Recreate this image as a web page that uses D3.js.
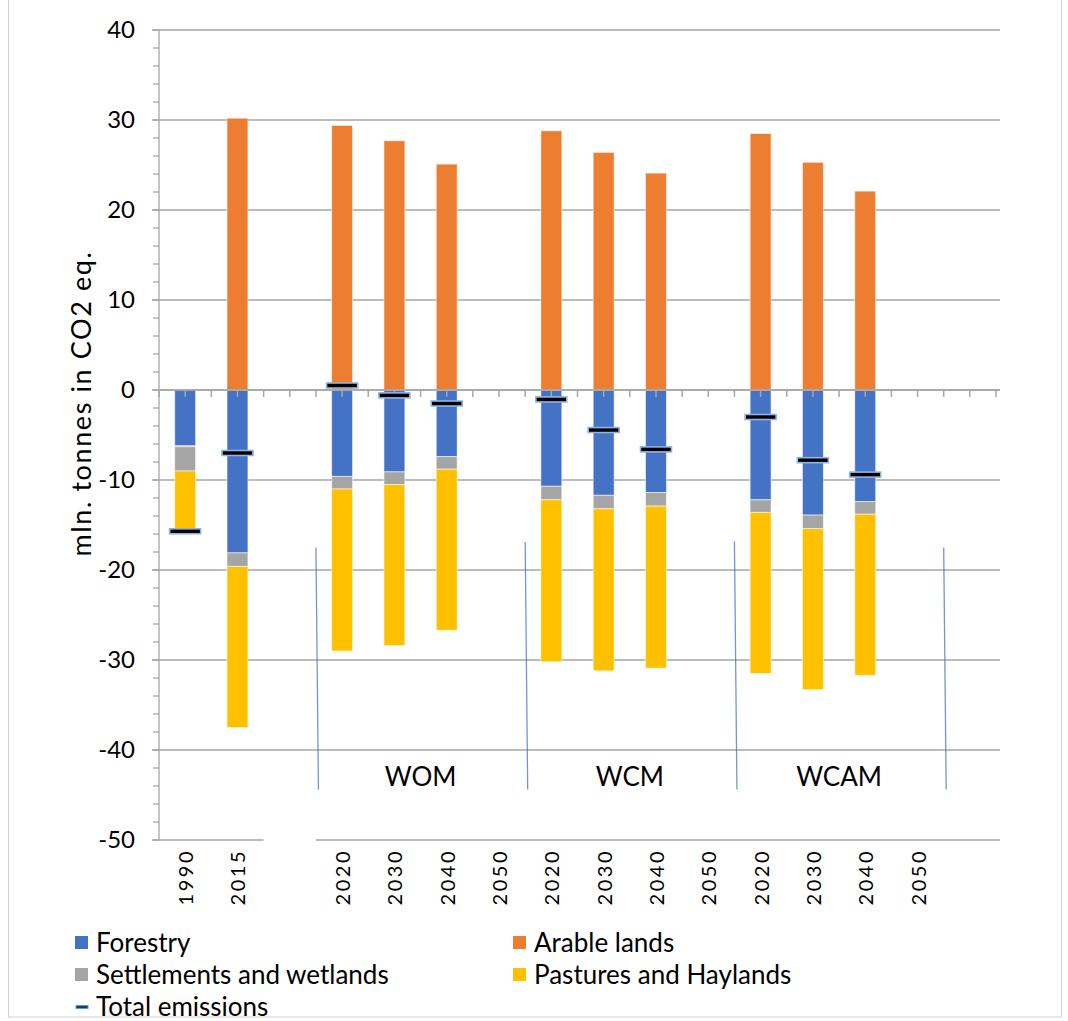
<!DOCTYPE html>
<html>
<head>
<meta charset="utf-8">
<script src="https://cdn.jsdelivr.net/npm/d3@7"></script>
<style>
  html, body { margin: 0; padding: 0; background: #fff; }
  svg { display: block; }
  text { font-family: Lato, "Open Sans", sans-serif; fill: #000; }
</style>
</head>
<body>
<svg id="chart" width="1068" height="1021"></svg>
<script>
// Land-use emission categories (mln. tonnes CO2 eq.) per period and scenario
const years = ["1990", "2015", "", "2020", "2030", "2040", "2050",
               "2020", "2030", "2040", "2050", "2020", "2030", "2040", "2050", ""];
const forestry    = [-6.2, -18.1, null, -9.6, -9.1, -7.4, null, -10.7, -11.7, -11.4, null, -12.2, -13.9, -12.4, null, null];
const arable      = [-0.1,  30.2, null, 29.4, 27.7, 25.1, null,  28.8,  26.4,  24.1, null,  28.5,  25.3,  22.1, null, null];
const settlements = [-2.7,  -1.5, null, -1.4, -1.4, -1.4, null,  -1.5,  -1.5,  -1.5, null,  -1.4,  -1.5,  -1.4, null, null];
const pastures    = [-6.5, -17.9, null, -18.0, -17.9, -17.9, null, -18.0, -18.0, -18.0, null, -17.9, -17.9, -17.9, null, null];
const totals      = [-15.7, -7.0, null, 0.5, -0.6, -1.5, null, -1.05, -4.45, -6.6, null, -3.0, -7.8, -9.4, null, null];

const seriesNames = ["Forestry", "Arable lands", "Settlements and wetlands", "Pastures and Haylands"];
const seriesKeys  = ["forestry", "arable", "settlements", "pastures"];
const scenarios   = ["WOM", "WCM", "WCAM"];
const yTicks = [40, 30, 20, 10, 0, -10, -20, -30, -40, -50];

const colors = {
  forestry: "#4472C4",
  arable: "#ED7D31",
  settlements: "#A5A5A5",
  pastures: "#FFC000"
};

const svg = d3.select("#chart");

// outer chart frame
svg.append("rect")
  .attr("x", 8.5).attr("y", -2).attr("width", 1053).attr("height", 1019)
  .attr("fill", "none").attr("stroke", "#D0D0D0").attr("stroke-width", 1);

const x = d3.scaleBand()
  .domain(d3.range(years.length))
  .range([159, 996])
  .paddingInner(0.6)
  .paddingOuter(0.3);

const y = d3.scaleLinear().domain([-50, 40]).range([840, 30]);

const rows = years.map((yr, i) => ({
  i,
  forestry: forestry[i] || 0,
  arable: arable[i] || 0,
  settlements: settlements[i] || 0,
  pastures: pastures[i] || 0
}));

const stacked = d3.stack()
  .keys(seriesKeys)
  .order(d3.stackOrderNone)
  .offset(d3.stackOffsetDiverging)(rows);

const gridColor = "#A6A6A6";
const x0 = 152, x1 = 1000;

// horizontal gridlines (the -50 line is broken over the empty slot)
const grid = svg.append("g");
yTicks.forEach(t => {
  if (t === -50) {
    const gapStart = x(2) + x.bandwidth() / 2 - x.step() / 2;
    const gapEnd = gapStart + x.step();
    grid.append("line").attr("x1", x0).attr("x2", gapStart)
      .attr("y1", y(t)).attr("y2", y(t)).attr("stroke", gridColor).attr("stroke-width", 1.3);
    grid.append("line").attr("x1", gapEnd).attr("x2", x1)
      .attr("y1", y(t)).attr("y2", y(t)).attr("stroke", gridColor).attr("stroke-width", 1.3);
  } else {
    grid.append("line").attr("x1", x0).attr("x2", x1)
      .attr("y1", y(t)).attr("y2", y(t)).attr("stroke", gridColor).attr("stroke-width", 1.3);
  }
});

// vertical axis with minor ticks every 2 units
const yAxisX = x.range()[0];
svg.append("line").attr("x1", yAxisX).attr("x2", yAxisX)
  .attr("y1", y(40)).attr("y2", y(-50)).attr("stroke", gridColor).attr("stroke-width", 1.3);
d3.range(-50, 40.01, 2).forEach(v => {
  svg.append("line").attr("x1", yAxisX - 6).attr("x2", yAxisX)
    .attr("y1", y(v)).attr("y2", y(v)).attr("stroke", gridColor).attr("stroke-width", 1.3);
});

// y tick labels
svg.append("g").selectAll("text").data(yTicks).join("text")
  .attr("x", 135).attr("y", d => y(d)).attr("dy", "0.35em")
  .attr("text-anchor", "end").attr("font-size", 24)
  .text(d => d);

// axis title
svg.append("text")
  .attr("transform", `translate(91, ${y(-1.5)}) rotate(-90)`)
  .attr("text-anchor", "middle").attr("font-size", 27)
  .attr("letter-spacing", 1.6)
  .text("mln. tonnes in CO2 eq.");

// stacked bars
svg.append("g").selectAll("g").data(stacked).join("g")
  .attr("fill", d => colors[d.key])
  .selectAll("rect").data(d => d.filter(p => p[1] !== p[0])).join("rect")
  .attr("x", d => x(d.data.i))
  .attr("width", x.bandwidth())
  .attr("y", d => y(d[1]))
  .attr("height", d => Math.abs(y(d[0]) - y(d[1])))
  .attr("stroke", "#fff").attr("stroke-opacity", 0.55).attr("stroke-width", 1);

// category axis at zero with ticks every half slot
svg.append("line").attr("x1", yAxisX).attr("x2", x1)
  .attr("y1", y(0)).attr("y2", y(0)).attr("stroke", gridColor).attr("stroke-width", 1.3);
d3.range(0, years.length * 2 + 1).forEach(k => {
  const px = x.range()[0] + k * x.step() / 2;
  if (px <= x1) {
    svg.append("line").attr("x1", px).attr("x2", px)
      .attr("y1", y(0)).attr("y2", y(0) + 7).attr("stroke", gridColor).attr("stroke-width", 1.5);
  }
});

// total emissions markers
svg.append("g").selectAll("rect")
  .data(totals.map((v, i) => ({ v, i })).filter(d => d.v !== null))
  .join("rect")
  .attr("x", d => x(d.i) + x.bandwidth() / 2 - 15.5)
  .attr("y", d => y(d.v) - 2.5)
  .attr("width", 31).attr("height", 5)
  .attr("fill", "#000")
  .attr("stroke", "#8FB4E3").attr("stroke-width", 1.6);

// scenario separators and names
const sepTop = [-17.5, -16.9, -16.8, -17.5];
const sepBottom = -44.4;
const boundaries = [3, 7, 11, 15].map(i => x(i) + x.bandwidth() / 2 - x.step() / 2);
boundaries.forEach((bx, k) => {
  svg.append("line")
    .attr("x1", bx).attr("y1", y(sepTop[k]))
    .attr("x2", bx + 2.5).attr("y2", y(sepBottom))
    .attr("stroke", "#4472C4").attr("stroke-opacity", 0.75).attr("stroke-width", 1.3);
});
scenarios.forEach((s, k) => {
  const cx = (boundaries[k] + boundaries[k + 1]) / 2;
  svg.append("text")
    .attr("x", cx).attr("y", y(-43))
    .attr("dy", "0.35em")
    .attr("text-anchor", "middle").attr("font-size", 26)
    .text(s);
});

// rotated period labels
svg.append("g").selectAll("text")
  .data(years.map((t, i) => ({ t, i })).filter(d => d.t !== ""))
  .join("text")
  .attr("transform", d => `translate(${x(d.i) + x.bandwidth() / 2 + 1}, 849) rotate(-90)`)
  .attr("text-anchor", "end").attr("dy", "0.35em")
  .attr("font-size", 20).attr("letter-spacing", 2.5)
  .text(d => d.t);

// legend
const legend = svg.append("g");
const legendItems = [
  { key: "forestry", col: 0, row: 0 },
  { key: "arable", col: 1, row: 0 },
  { key: "settlements", col: 0, row: 1 },
  { key: "pastures", col: 1, row: 1 }
];
const legX = [75, 513], legY = [943, 975, 1007];
legendItems.forEach(it => {
  const lx = legX[it.col], ly = legY[it.row];
  legend.append("rect").attr("x", lx).attr("y", ly - 7).attr("width", 13).attr("height", 13)
    .attr("fill", colors[it.key]);
  legend.append("text").attr("x", lx + 21).attr("y", ly).attr("dy", "0.35em")
    .attr("font-size", 26).text(seriesNames[seriesKeys.indexOf(it.key)]);
});
legend.append("rect").attr("x", 76).attr("y", legY[2] - 1.5).attr("width", 12).attr("height", 3)
  .attr("fill", "#1F3864").attr("stroke", "#5B9BD5").attr("stroke-width", 1);
legend.append("text").attr("x", legX[0] + 21).attr("y", legY[2]).attr("dy", "0.35em")
  .attr("font-size", 26).text("Total emissions");
</script>
</body>
</html>
